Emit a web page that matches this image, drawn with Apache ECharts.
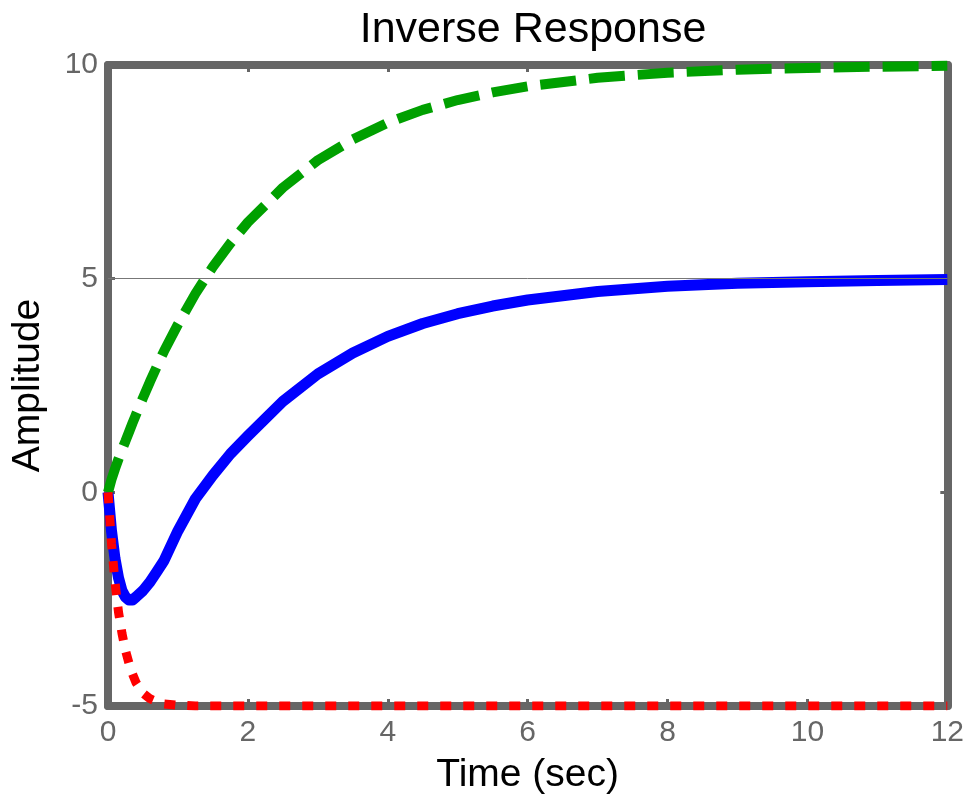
<!DOCTYPE html>
<html>
<head>
<meta charset="utf-8">
<script src="https://cdn.jsdelivr.net/npm/echarts@6/dist/echarts.min.js"></script>
<style>
  html, body { margin: 0; padding: 0; background: #fff; }
  #main { width: 967px; height: 800px; }
</style>
</head>
<body>
<div id="main"></div>
<script>
// time samples (sec)
var timeSec = [0, 0.05, 0.1, 0.15, 0.2, 0.25, 0.3, 0.35, 0.4, 0.5, 0.6, 0.7, 0.8, 1.0, 1.25, 1.5,
  1.75, 2, 2.5, 3, 3.5, 4, 4.5, 5, 5.5, 6, 7, 8, 9, 10, 11, 12];
// combined (inverse) response
var blueVals = [0, -0.9, -1.55, -2.0, -2.3, -2.45, -2.52, -2.52, -2.45, -2.3, -2.1, -1.85, -1.6, -0.9, -0.15, 0.4,
  0.9, 1.32, 2.13, 2.77, 3.26, 3.65, 3.95, 4.18, 4.36, 4.5, 4.7, 4.82, 4.89, 4.93, 4.96, 4.98];
// slow positive part
var greenVals = [0, 0.3, 0.55, 0.78, 1.0, 1.2, 1.41, 1.62, 1.82, 2.21, 2.59, 2.95, 3.3, 3.93, 4.65, 5.28,
  5.83, 6.32, 7.13, 7.77, 8.26, 8.65, 8.95, 9.18, 9.36, 9.5, 9.7, 9.82, 9.89, 9.93, 9.96, 9.98];
// fast negative part
var redVals = [0, -1.2, -2.1, -2.8, -3.3, -3.7, -4.0, -4.25, -4.45, -4.7, -4.83, -4.9, -4.95, -4.98, -5, -5,
  -5, -5, -5, -5, -5, -5, -5, -5, -5, -5, -5, -5, -5, -5, -5, -5];

var xTicks = [0, 12, 2];
var yTicks = [-5, 10, 5];

function pairs(vals) {
  return timeSec.map(function (t, i) { return [t, vals[i]]; });
}

var font = "Liberation Sans, Arial, sans-serif";
var frame = { show: true, onZero: false, lineStyle: { color: "#666", width: 8 } };
var ticks = { show: true, inside: true, length: 7, lineStyle: { color: "#666", width: 3 } };

var myChart = echarts.init(document.getElementById("main"));

var option = {
  animation: false,
  backgroundColor: "#fff",
  title: {
    text: "Inverse Response",
    left: 528,
    textAlign: "center",
    top: 4,
    textStyle: { fontFamily: font, fontSize: 43, fontWeight: "normal", color: "#000" }
  },
  grid: { left: 108, right: 16, top: 65, bottom: 93 },
  xAxis: [
    {
      type: "value",
      position: "bottom",
      min: xTicks[0], max: xTicks[1], interval: xTicks[2],
      name: "Time (sec)",
      nameLocation: "middle",
      nameGap: 50,
      nameTextStyle: { fontFamily: font, fontSize: 39, color: "#000" },
      axisLine: frame,
      axisTick: ticks,
      axisLabel: { fontFamily: font, fontSize: 30, color: "#666", margin: 12 },
      splitLine: { show: false }
    },
    {
      type: "value",
      position: "top",
      min: xTicks[0], max: xTicks[1], interval: xTicks[2],
      axisLine: frame,
      axisTick: ticks,
      axisLabel: { show: false },
      splitLine: { show: false }
    }
  ],
  yAxis: [
    {
      type: "value",
      position: "left",
      min: yTicks[0], max: yTicks[1], interval: yTicks[2],
      name: "Amplitude",
      nameLocation: "middle",
      nameGap: 60,
      nameTextStyle: { fontFamily: font, fontSize: 39, color: "#000" },
      axisLine: frame,
      axisTick: ticks,
      axisLabel: { fontFamily: font, fontSize: 30, color: "#666", margin: 10 },
      splitLine: { show: false }
    },
    {
      type: "value",
      position: "right",
      min: yTicks[0], max: yTicks[1], interval: yTicks[2],
      axisLine: frame,
      axisTick: ticks,
      axisLabel: { show: false },
      splitLine: { show: false }
    }
  ],
  series: [
    {
      type: "line",
      data: pairs(blueVals),
      showSymbol: false,
      lineStyle: { color: "#0000ff", width: 11, join: "round" },
      markLine: {
        silent: true,
        symbol: "none",
        label: { show: false },
        lineStyle: { color: "#777", width: 1, type: "solid" },
        data: [{ yAxis: 5 }]
      }
    },
    {
      type: "line",
      data: pairs(greenVals),
      showSymbol: false,
      lineStyle: { color: "#00a000", width: 10, type: [36, 13] }
    },
    {
      type: "line",
      data: pairs(redVals),
      showSymbol: false,
      lineStyle: { color: "#ff0000", width: 9, type: [11, 12] }
    }
  ]
};

myChart.setOption(option);
</script>
</body>
</html>
